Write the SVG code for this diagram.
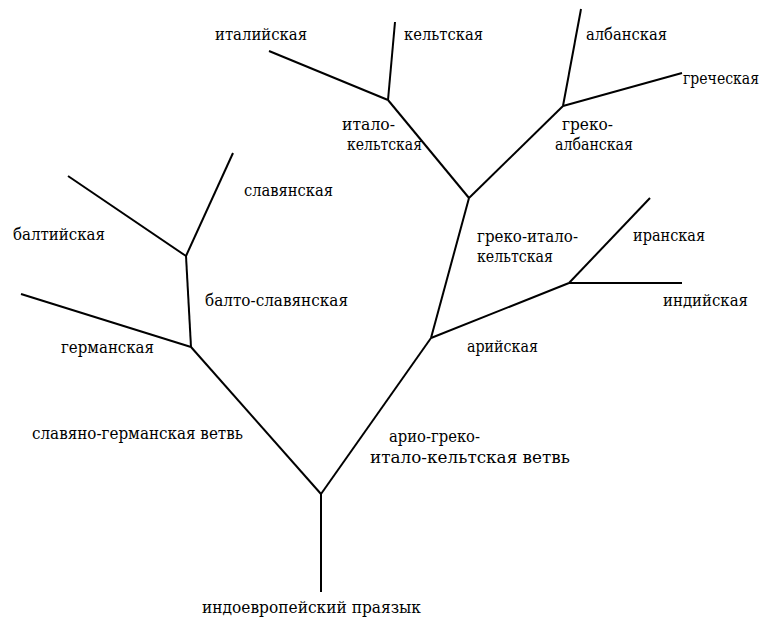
<svg xmlns="http://www.w3.org/2000/svg" width="766" height="620" viewBox="0 0 766 620">
<defs>
<style>
  .br { stroke: #000; stroke-width: 2; fill: none; }
  text { font-family: 'DejaVu Serif', 'Liberation Serif', serif; font-size: 17px; fill: #000; }
</style>
</defs>
<rect width="766" height="620" fill="#fff"/>
<g id="connectors">
  <polyline class="br" points="321,592 321,494"/>
  <polyline class="br" points="321,494 191,347"/>
  <polyline class="br" points="321,494 431,338"/>
  <polyline class="br" points="191,347 21,294"/>
  <polyline class="br" points="191,347 186,256"/>
  <polyline class="br" points="186,256 68,176"/>
  <polyline class="br" points="186,256 233,153"/>
  <polyline class="br" points="431,338 469,198"/>
  <polyline class="br" points="431,338 569,283"/>
  <polyline class="br" points="569,283 650,198"/>
  <polyline class="br" points="569,283 682,283"/>
  <polyline class="br" points="469,198 388,100"/>
  <polyline class="br" points="388,100 269,51"/>
  <polyline class="br" points="388,100 395,22"/>
  <polyline class="br" points="469,198 563,106"/>
  <polyline class="br" points="563,106 581,9"/>
  <polyline class="br" points="563,106 682,73"/>
</g>
<g id="proto"><text x="202" y="613" textLength="219" lengthAdjust="spacingAndGlyphs">индоевропейский праязык</text></g>
<g id="slavgerm"><text x="32" y="439" textLength="211" lengthAdjust="spacingAndGlyphs">славяно-германская ветвь</text></g>
<g id="ariogreco"><text x="389" y="442" textLength="91" lengthAdjust="spacingAndGlyphs">арио-греко-</text><text x="370" y="463" textLength="200" lengthAdjust="spacingAndGlyphs">итало-кельтская ветвь</text></g>
<g id="german"><text x="61" y="353" textLength="93" lengthAdjust="spacingAndGlyphs">германская</text></g>
<g id="baltoslav"><text x="205" y="306" textLength="143" lengthAdjust="spacingAndGlyphs">балто-славянская</text></g>
<g id="baltic"><text x="13" y="240" textLength="92" lengthAdjust="spacingAndGlyphs">балтийская</text></g>
<g id="slavic"><text x="244" y="196" textLength="89" lengthAdjust="spacingAndGlyphs">славянская</text></g>
<g id="aryan"><text x="467" y="352" textLength="71" lengthAdjust="spacingAndGlyphs">арийская</text></g>
<g id="iranian"><text x="633" y="241" textLength="72" lengthAdjust="spacingAndGlyphs">иранская</text></g>
<g id="indian"><text x="663" y="306" textLength="85" lengthAdjust="spacingAndGlyphs">индийская</text></g>
<g id="grecoitalocelt"><text x="477" y="242" textLength="101" lengthAdjust="spacingAndGlyphs">греко-итало-</text><text x="477" y="262" textLength="76" lengthAdjust="spacingAndGlyphs">кельтская</text></g>
<g id="italocelt"><text x="342" y="130" textLength="53" lengthAdjust="spacingAndGlyphs">итало-</text><text x="347" y="150" textLength="75" lengthAdjust="spacingAndGlyphs">кельтская</text></g>
<g id="italic"><text x="215" y="40" textLength="92" lengthAdjust="spacingAndGlyphs">италийская</text></g>
<g id="celtic"><text x="404" y="40" textLength="79" lengthAdjust="spacingAndGlyphs">кельтская</text></g>
<g id="grecoalb"><text x="562" y="130" textLength="51" lengthAdjust="spacingAndGlyphs">греко-</text><text x="555" y="150" textLength="78" lengthAdjust="spacingAndGlyphs">албанская</text></g>
<g id="albanian"><text x="586" y="40" textLength="81" lengthAdjust="spacingAndGlyphs">албанская</text></g>
<g id="greek"><text x="683" y="84" textLength="76" lengthAdjust="spacingAndGlyphs">греческая</text></g>
</svg>
